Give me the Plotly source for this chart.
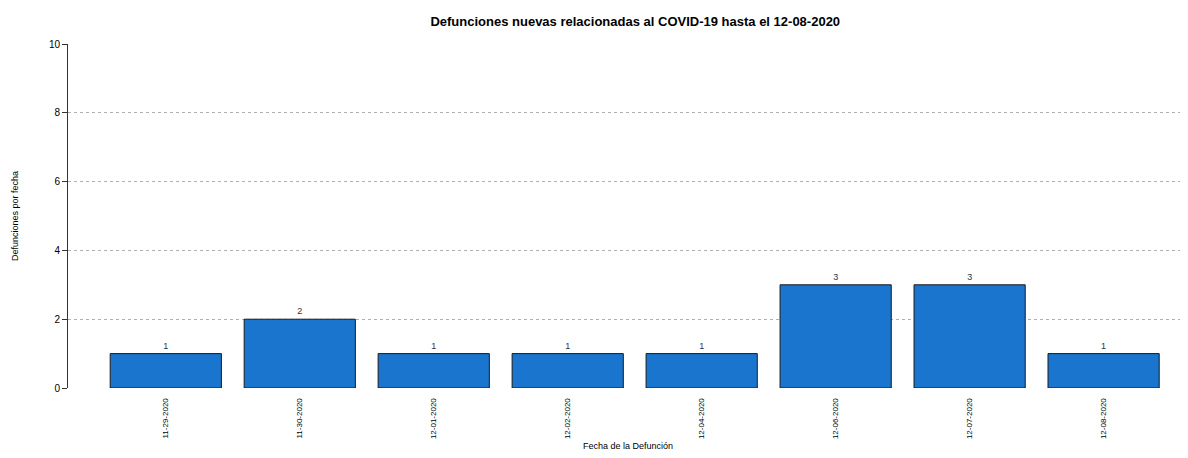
import plotly.graph_objects as go

fechas = ["11-29-2020", "11-30-2020", "12-01-2020", "12-02-2020",
          "12-04-2020", "12-06-2020", "12-07-2020", "12-08-2020"]
defunciones = [1, 2, 1, 1, 1, 3, 3, 1]

fig = go.Figure(go.Bar(
    x=fechas, y=defunciones,
    marker=dict(color="#1a75cf", line=dict(color="#1a1a1a", width=1)),
    width=0.83,
    text=defunciones, textposition="outside",
    textfont=dict(size=9, color="#333"),
    cliponaxis=False,
))

fig.update_layout(
    width=1188, height=458,
    margin=dict(l=60, r=8, t=36, b=78),
    plot_bgcolor="white", paper_bgcolor="white",
    font=dict(family="Liberation Sans, Arial", size=10, color="black"),
    title=dict(text="<b>Defunciones nuevas relacionadas al COVID-19 hasta el 12-08-2020</b>",
               x=0.528, xanchor="center", y=0.98, font=dict(size=13)),
    showlegend=False,
)
fig.update_xaxes(
    type="category", range=[-0.73, 7.63], tickangle=-90, automargin=False,
    tickfont=dict(size=8), showline=False, showgrid=False, ticks="outside",
    ticklen=6, tickcolor="white",
    title=dict(text="Fecha de la Defunción", font=dict(size=9), standoff=4),
)
fig.update_yaxes(
    range=[0, 10], dtick=2, showline=True, linecolor="#333", linewidth=1,
    ticks="outside", ticklen=5, tickcolor="#333", automargin=False,
    showgrid=True, gridcolor="#b0b0b0", griddash="dot", gridwidth=0.8, zeroline=False,
    title=dict(text="Defunciones por fecha", font=dict(size=9), standoff=28),
)

fig.write_html("out.html")
